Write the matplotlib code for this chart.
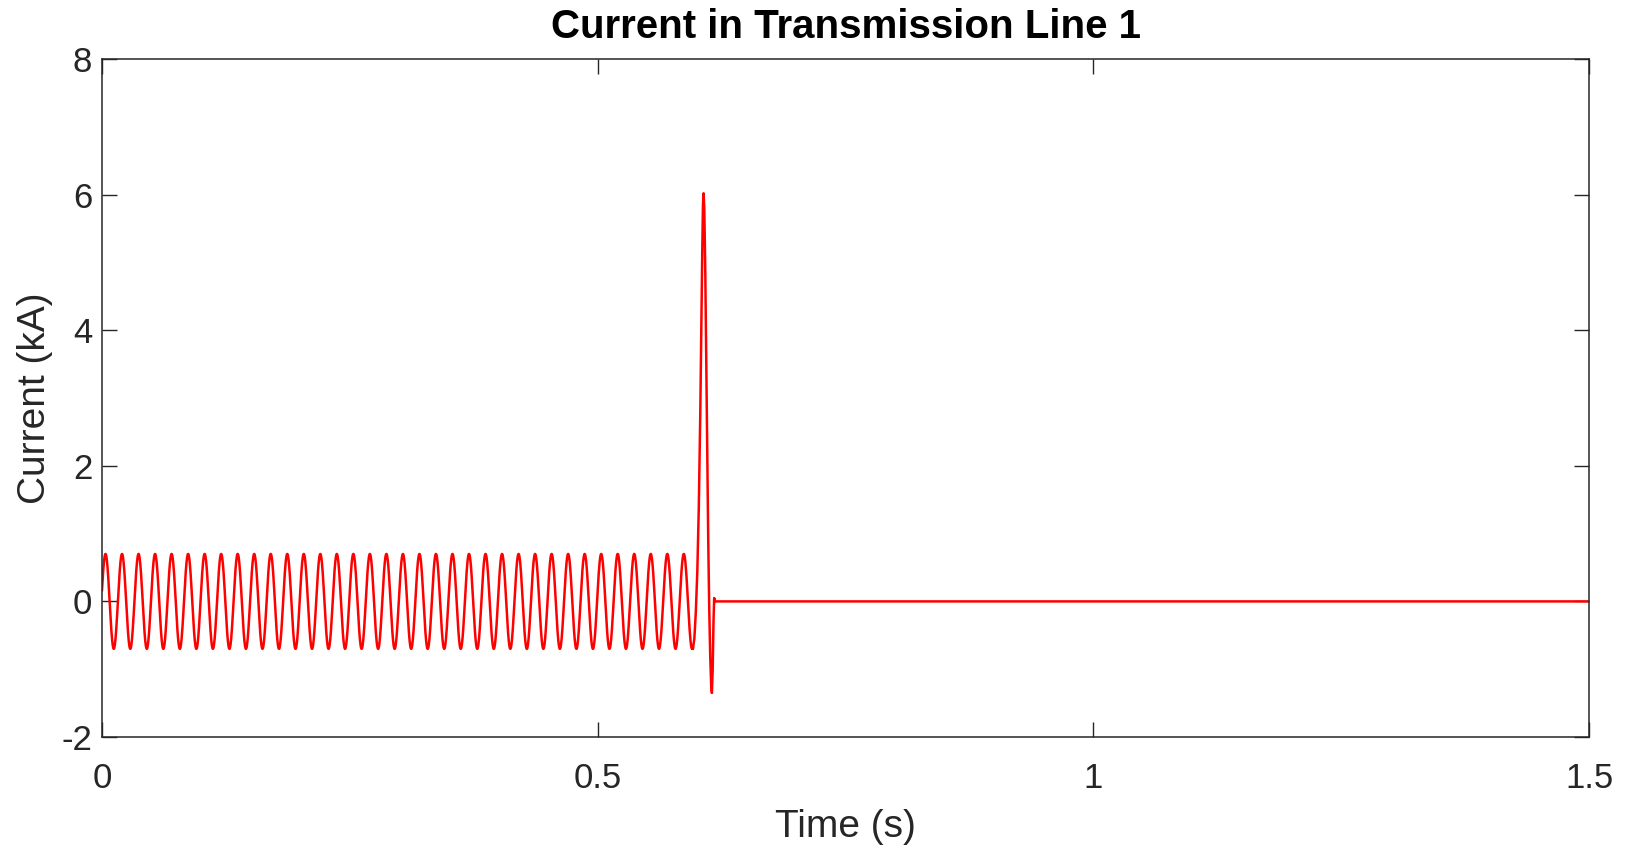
import numpy as np
import matplotlib
matplotlib.use("Agg")
import matplotlib.pyplot as plt

plt.rcParams['font.family'] = ['Liberation Sans', 'DejaVu Sans']
plt.rcParams['axes.unicode_minus'] = False

# steady-state line current before the fault
freq_hz = 60.0          # 36 cycles in the first 0.6 s
amp_ka = 0.70           # peak of the pre-fault current
phase_rad = 0.24        # current is about 0.17 kA at t = 0
t_fault = 0.596         # last trough before the surge

# fault transient and breaker trip
fault_t = [0.5960, 0.5975, 0.5990, 0.6005, 0.6020, 0.6035, 0.6045, 0.6055,
           0.6062, 0.6068, 0.6075, 0.6085, 0.6095, 0.6105, 0.6115, 0.6125,
           0.6135, 0.6145, 0.6152, 0.6160, 0.6168, 0.6175, 0.6185, 1.5]
fault_i = [-0.70, -0.55, -0.15, 0.45, 1.40, 2.80, 4.00, 5.20,
           5.85, 6.02, 5.80, 4.90, 3.60, 2.20, 0.90, -0.10,
           -0.80, -1.25, -1.35, -1.00, -0.30, 0.05, 0.00, 0.00]

x_ticks = [0, 0.5, 1, 1.5]
x_labels = ['0', '0.5', '1', '1.5']
y_ticks = [-2, 0, 2, 4, 6, 8]

t_pre = np.linspace(0, t_fault, 4000)
i_pre = amp_ka * np.sin(2 * np.pi * freq_hz * t_pre + phase_rad)
t = np.concatenate([t_pre, fault_t])
i = np.concatenate([i_pre, fault_i])

fig = plt.figure(figsize=(16.32, 8.48), dpi=100)
ax = fig.add_axes([0.0625, 0.1309, 0.9112, 0.7995])

ax.plot(t, i, color='#ff0000', lw=1.8)

ax.set_xlim(0, 1.5)
ax.set_ylim(-2, 8)
ax.set_xticks(x_ticks)
ax.set_xticklabels(x_labels)
ax.set_yticks(y_ticks)
ax.tick_params(direction='in', length=11, width=1, colors='#262626',
               labelsize=25, top=True, right=True)
ax.tick_params(axis='x', pad=18)
ax.tick_params(axis='y', pad=7)
for s in ax.spines.values():
    s.set_color('#262626')
    s.set_linewidth(1.1)

ax.set_title('Current in Transmission Line 1', fontsize=29,
             fontweight='bold', pad=15)
ax.set_xlabel('Time (s)', fontsize=28, color='#262626', labelpad=10)
ax.set_ylabel('Current (kA)', fontsize=28, color='#262626', labelpad=6)

fig.savefig('out.png', dpi=100, facecolor='white')
